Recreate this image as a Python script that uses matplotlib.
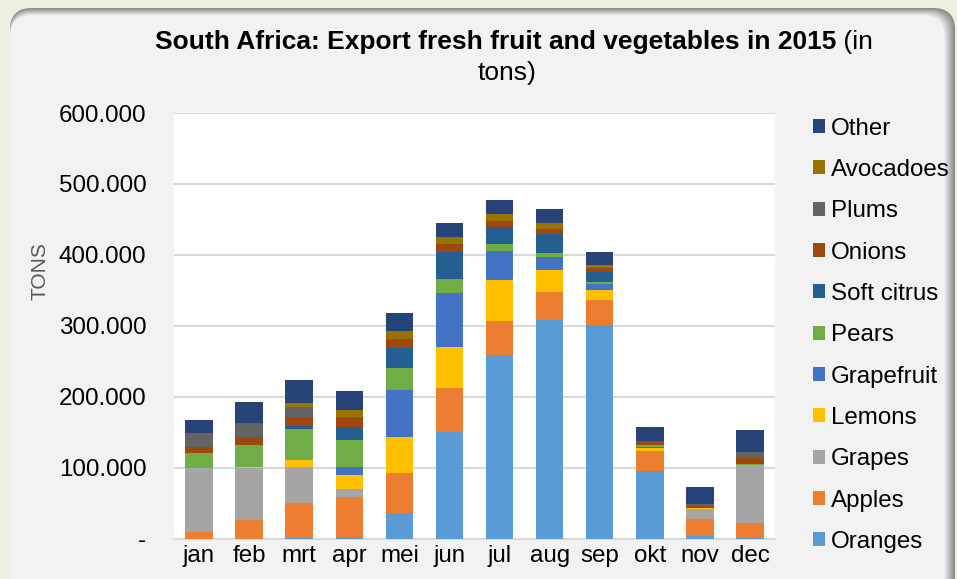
import matplotlib
matplotlib.use("Agg")
import matplotlib.pyplot as plt
from matplotlib.patches import FancyBboxPatch, Patch
import numpy as np

plt.rcParams['font.family'] = ['Liberation Sans', 'DejaVu Sans']

months = ['jan', 'feb', 'mrt', 'apr', 'mei', 'jun', 'jul', 'aug', 'sep', 'okt', 'nov', 'dec']

oranges = [0, 0, 1000, 2000, 35500, 150600, 258400, 307700, 300700, 94800, 3300, 500]
apples = [9000, 26000, 49500, 57000, 56500, 62000, 49000, 39500, 35700, 29000, 23700, 21300]
grapes = [91000, 73000, 50500, 11000, 0, 0, 0, 0, 0, 0, 14000, 81400]
lemons = [0, 1500, 9500, 19000, 51000, 58000, 57600, 31700, 14000, 4200, 1500, 0]
grapefruit = [0, 0, 0, 12000, 67000, 75000, 40000, 17400, 8000, 1400, 0, 0]
pears = [20000, 31000, 44000, 37500, 30500, 20600, 10500, 6600, 3700, 2000, 1000, 1500]
soft_citrus = [0, 0, 4700, 19000, 28000, 37600, 24000, 27000, 13300, 700, 0, 0]
onions = [8500, 11000, 12700, 12000, 12700, 11000, 8500, 7000, 6000, 5500, 3000, 8500]
plums = [20000, 20000, 14000, 2000, 0, 0, 0, 0, 0, 0, 2800, 9400]
avocadoes = [0, 0, 5600, 9400, 11000, 10000, 9400, 7500, 3800, 0, 0, 0]
other = [19000, 30000, 32000, 27700, 26300, 19600, 20000, 19700, 19200, 19300, 23000, 30600]

series_names = ['Oranges', 'Apples', 'Grapes', 'Lemons', 'Grapefruit', 'Pears',
                'Soft citrus', 'Onions', 'Plums', 'Avocadoes', 'Other']
series_values = [oranges, apples, grapes, lemons, grapefruit, pears,
                 soft_citrus, onions, plums, avocadoes, other]
colors = ['#5B9BD5', '#ED7D31', '#A5A5A5', '#FFC000', '#4472C4', '#70AD47',
          '#255E91', '#9E480E', '#636363', '#997300', '#264478']

yticks = [0, 100000, 200000, 300000, 400000, 500000, 600000]
ytick_labels = ['-', '100.000', '200.000', '300.000', '400.000', '500.000', '600.000']

W, H = 957, 579
fig = plt.figure(figsize=(W / 100, H / 100), dpi=100)
fig.patch.set_facecolor('#EBF1DE')

# background panel, pixel coordinates
bg = fig.add_axes([0, 0, 1, 1], zorder=0)
bg.set_xlim(0, W)
bg.set_ylim(H, 0)
bg.axis('off')
bg.add_patch(FancyBboxPatch((10, 8), 945, 620, boxstyle="round,pad=0,rounding_size=22",
                            facecolor='#D0D0D0', edgecolor='none'))
shade = np.linspace(0, 1, 8)
for i, s in enumerate(shade):
    c = (0.55 + 0.40 * s,) * 3
    bg.add_patch(FancyBboxPatch((10, 8 + i), 945 - i * 1.5, 620,
                                boxstyle="round,pad=0,rounding_size=22",
                                facecolor=c, edgecolor='none'))
bg.add_patch(FancyBboxPatch((11, 16), 930, 620, boxstyle="round,pad=0,rounding_size=18",
                            facecolor='#F2F2F2', edgecolor='none'))

ax = fig.add_axes([174 / W, 1 - 538.5 / H, 601 / W, 425.5 / H], zorder=2)
ax.set_facecolor('white')
x = np.arange(len(months))
bottom = np.zeros(len(months))
handles = []
for name, vals, col in zip(series_names, series_values, colors):
    ax.bar(x, vals, width=0.55, bottom=bottom, color=col, label=name, zorder=3)
    bottom += np.array(vals)
    handles.append(Patch(facecolor=col, label=name))

ax.set_xlim(-0.5, 11.5)
ax.set_ylim(0, 600000)
ax.set_yticks(yticks)
ax.set_yticklabels(ytick_labels)
ax.set_xticks(x)
ax.set_xticklabels(months)
ax.tick_params(axis='y', length=0, pad=20, labelsize=17.4, labelcolor='black')
ax.tick_params(axis='x', length=0, pad=5, labelsize=17.4, labelcolor='black')
ax.grid(axis='y', color='#D9D9D9', linewidth=1.5, zorder=0)
for sp in ['top', 'right', 'left']:
    ax.spines[sp].set_visible(False)
ax.spines['bottom'].set_color('#D9D9D9')
ax.spines['bottom'].set_linewidth(1.5)

fig.text(40 / W, 1 - 271 / H, 'TONS', rotation=90, ha='center', va='center',
         fontsize=15, color='#595959')

leg = fig.legend(handles=handles[::-1], loc='upper left',
                 bbox_to_anchor=(803 / W, 1 - 108 / H), frameon=False,
                 fontsize=17.4, handlelength=0.52, handleheight=0.52,
                 handletextpad=0.22, labelspacing=0.80, borderaxespad=0)

# title: bold part + normal part
t1 = fig.text(155 / W, 1 - 42 / H, 'South Africa: Export fresh fruit and vegetables in 2015',
              fontsize=19, fontweight='bold', ha='left', va='center')
fig.canvas.draw()
bb = t1.get_window_extent()
fig.text(bb.x1 / W, 1 - 42 / H, ' (in', fontsize=19, ha='left', va='center')
fig.text(507 / W, 1 - 73 / H, 'tons)', fontsize=19, ha='center', va='center')

fig.savefig('out.png', dpi=100, facecolor=fig.get_facecolor())
